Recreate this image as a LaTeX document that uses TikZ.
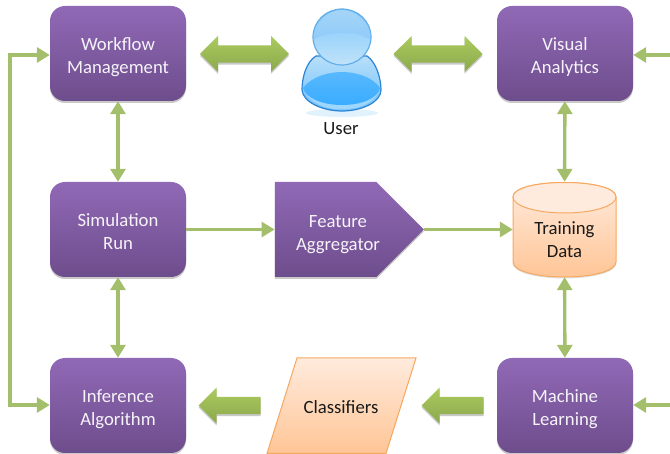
\documentclass[tikz,border=0pt]{standalone}
\usepackage{fontspec}
\setmainfont{Carlito}
\usetikzlibrary{arrows.meta,shapes.arrows,shapes.symbols,shadows}
\definecolor{gline}{HTML}{A3BF6C}
\definecolor{gtop}{HTML}{ABCB5E}
\definecolor{gbot}{HTML}{8BA84D}
\definecolor{ptop}{HTML}{9069B6}
\definecolor{pbot}{HTML}{6E4D8C}
\definecolor{otop}{HTML}{FFEBDD}
\definecolor{obot}{HTML}{FFC596}
\definecolor{oedge}{HTML}{F6A860}
\definecolor{ubodyt}{HTML}{B8DFFA}
\definecolor{ubodyb}{HTML}{6FC0FB}
\definecolor{uedge}{HTML}{2A85D8}
\definecolor{urim}{HTML}{9FD6FB}
\definecolor{uglosst}{HTML}{58B8FE}
\definecolor{uglossb}{HTML}{3AACFF}
\definecolor{uheadt}{HTML}{A5D5F8}
\definecolor{uheadm}{HTML}{8FCBF9}
\definecolor{uheadl}{HTML}{7FC7FB}
\definecolor{uheadb}{HTML}{C0E3FA}
\definecolor{uheade}{HTML}{62AEE8}
\definecolor{uglow}{HTML}{D5EDFC}
\newcommand{\movedtext}[2]{\raisebox{#1}[\height][\depth]{\begin{tabular}{@{}c@{}}#2\end{tabular}}}
\tikzset{
  softshadow/.style={drop shadow={shadow xshift=0pt,shadow yshift=-2pt,opacity=.3,fill=black!70}},
  labeltext/.style={font=\fontsize{18.7}{23}\selectfont},
  purplebox/.style={rounded corners=15pt,minimum width=136pt,minimum height=95pt,inner sep=0pt,
    top color=ptop,bottom color=pbot,draw=none,softshadow,text=white!92!ptop,labeltext},
  orangetxt/.style={text=black!90,labeltext},
  orangefill/.style={top color=otop,bottom color=obot,draw=oedge,line width=1pt},
  conn/.style={draw=gline,line width=3.4pt,-{Triangle[length=13pt,width=15pt]}},
  bconn/.style={draw=gline,line width=3.4pt,{Triangle[length=13pt,width=15pt]}-{Triangle[length=13pt,width=15pt]}},
  blockarrow/.style={inner sep=0pt,text width=0pt,text height=16.5pt,text depth=0pt,
    top color=gtop,bottom color=gbot,draw=none,softshadow},
  dblarrow/.style={blockarrow,double arrow,minimum height=89pt,minimum width=36pt,double arrow head extend=9pt},
  leftarrow/.style={blockarrow,single arrow,shape border rotate=180,minimum height=62pt,minimum width=36pt,single arrow head extend=9pt},
  featbox/.style={signal,signal to=east,signal pointer angle=90,minimum width=149pt,minimum height=95pt,inner sep=0pt,
    top color=ptop,bottom color=pbot,draw=none,softshadow},
}
\begin{document}
\begin{tikzpicture}[x=1pt,y=-1pt]
\useasboundingbox (0,0) rectangle (670,454);
% boxes
\node[purplebox] (wf) at (118,53.5) {\movedtext{-4pt}{Workflow\\Management}};
\node[purplebox] (va) at (565,53.5) {\movedtext{-4pt}{Visual\\Analytics}};
\node[purplebox] (sim) at (118,229.5) {\movedtext{-4pt}{Simulation\\Run}};
\node[purplebox] (inf) at (118,405.5) {\movedtext{-4pt}{Inference\\Algorithm}};
\node[purplebox] (ml) at (565,405.5) {\movedtext{-4pt}{Machine\\Learning}};
% feature aggregator
\node[featbox] (feat) at (325.5,229.5) {};
\node[text=white!92!ptop,labeltext] (feattxt) at (338,234) {\movedtext{0pt}{Feature\\Aggregator}};
% training data
\path[orangefill,drop shadow={shadow xshift=0pt,shadow yshift=-1.5pt,opacity=.25}]
  (513,197) .. controls (513,188) and (536,182.5) .. (564.5,182.5)
  .. controls (593,182.5) and (616,188) .. (616,197)
  -- (616,262) .. controls (616,271) and (593,277) .. (564.5,277)
  .. controls (536,277) and (513,271) .. (513,262) -- cycle;
\path[fill=otop,draw=oedge,line width=1pt]
  (513,197) .. controls (513,188) and (536,182.5) .. (564.5,182.5)
  .. controls (593,182.5) and (616,188) .. (616,197)
  .. controls (616,206) and (593,213) .. (564.5,213)
  .. controls (536,213) and (513,206) .. (513,197) -- cycle;
\node[minimum width=103pt,minimum height=95pt,inner sep=0pt,orangetxt] (data) at (564.5,229.5) {\movedtext{-12pt}{Training\\Data}};
% classifiers
\path[orangefill] (297,358) -- (416,358) -- (386,453.5) -- (267,453.5) -- cycle;
\node[orangetxt] (clf) at (341,407) {Classifiers};
% user icon
\fill[uglow,opacity=.7] (342,113) ellipse (36pt and 4pt);
\path[top color=ubodyt,bottom color=ubodyb,draw=uedge,line width=1.2pt]
  (316,56) .. controls (306,62) and (302,78) .. (302,90)
  .. controls (303,102) and (322,111) .. (342,111)
  .. controls (362,111) and (381,102) .. (381,90)
  .. controls (381,78) and (376,62) .. (367,56) -- cycle;
\fill[urim] (305,90) .. controls (307,100) and (322,109.5) .. (342,109.5)
  .. controls (362,109.5) and (377,100) .. (379,90) -- cycle;
\path[top color=uglosst,bottom color=uglossb,draw=none]
  (303,88) .. controls (312,76) and (330,72) .. (342,72)
  .. controls (354,72) and (372,76) .. (380,88)
  .. controls (378,98) and (362,105) .. (342,105)
  .. controls (322,105) and (306,98) .. (303,88) -- cycle;
\path[top color=uheadl,bottom color=uheadb,draw=uheade,line width=1.2pt] (342,37) ellipse (29pt and 28pt);
\path[top color=uheadt,bottom color=uheadm,draw=none] (314.5,39) .. controls (315,20) and (330,10) .. (342,10)
  .. controls (354,10) and (369,20) .. (369.5,39) .. controls (358,31) and (328,31) .. (314.5,39) -- cycle;
\node[font=\fontsize{18.7}{23}\selectfont,text=black!90] (usr) at (341,129) {User};
\coordinate (lloop1) at (10,55);
\coordinate (lloop2) at (10,405);
\coordinate (rloop1) at (672.5,55);
\coordinate (rloop2) at (672.5,405);
% thin connectors
\draw[bconn] (wf) -- (sim);
\draw[bconn] (sim) -- (inf);
\draw[bconn] (va) -- (data);
\draw[bconn] (data) -- (ml);
\draw[conn] (sim) -- (feat);
\draw[conn] (feat) -- (data);
\draw[conn] (lloop2) -- (lloop1) -- (wf.west |- lloop1);
\draw[conn] (lloop1) -- (lloop2) -- (inf.west |- lloop2);
\draw[conn] (rloop2) -- (rloop1) -- (va.east |- rloop1);
\draw[conn] (rloop1) -- (rloop2) -- (ml.east |- rloop2);
% block arrows
\node[dblarrow] (a1) at (244.5,54) {};
\node[dblarrow] (a2) at (438,54) {};
\node[leftarrow] (a3) at (234,405.5) {};
\node[leftarrow] (a4) at (457,405.5) {};
\end{tikzpicture}
\end{document}
